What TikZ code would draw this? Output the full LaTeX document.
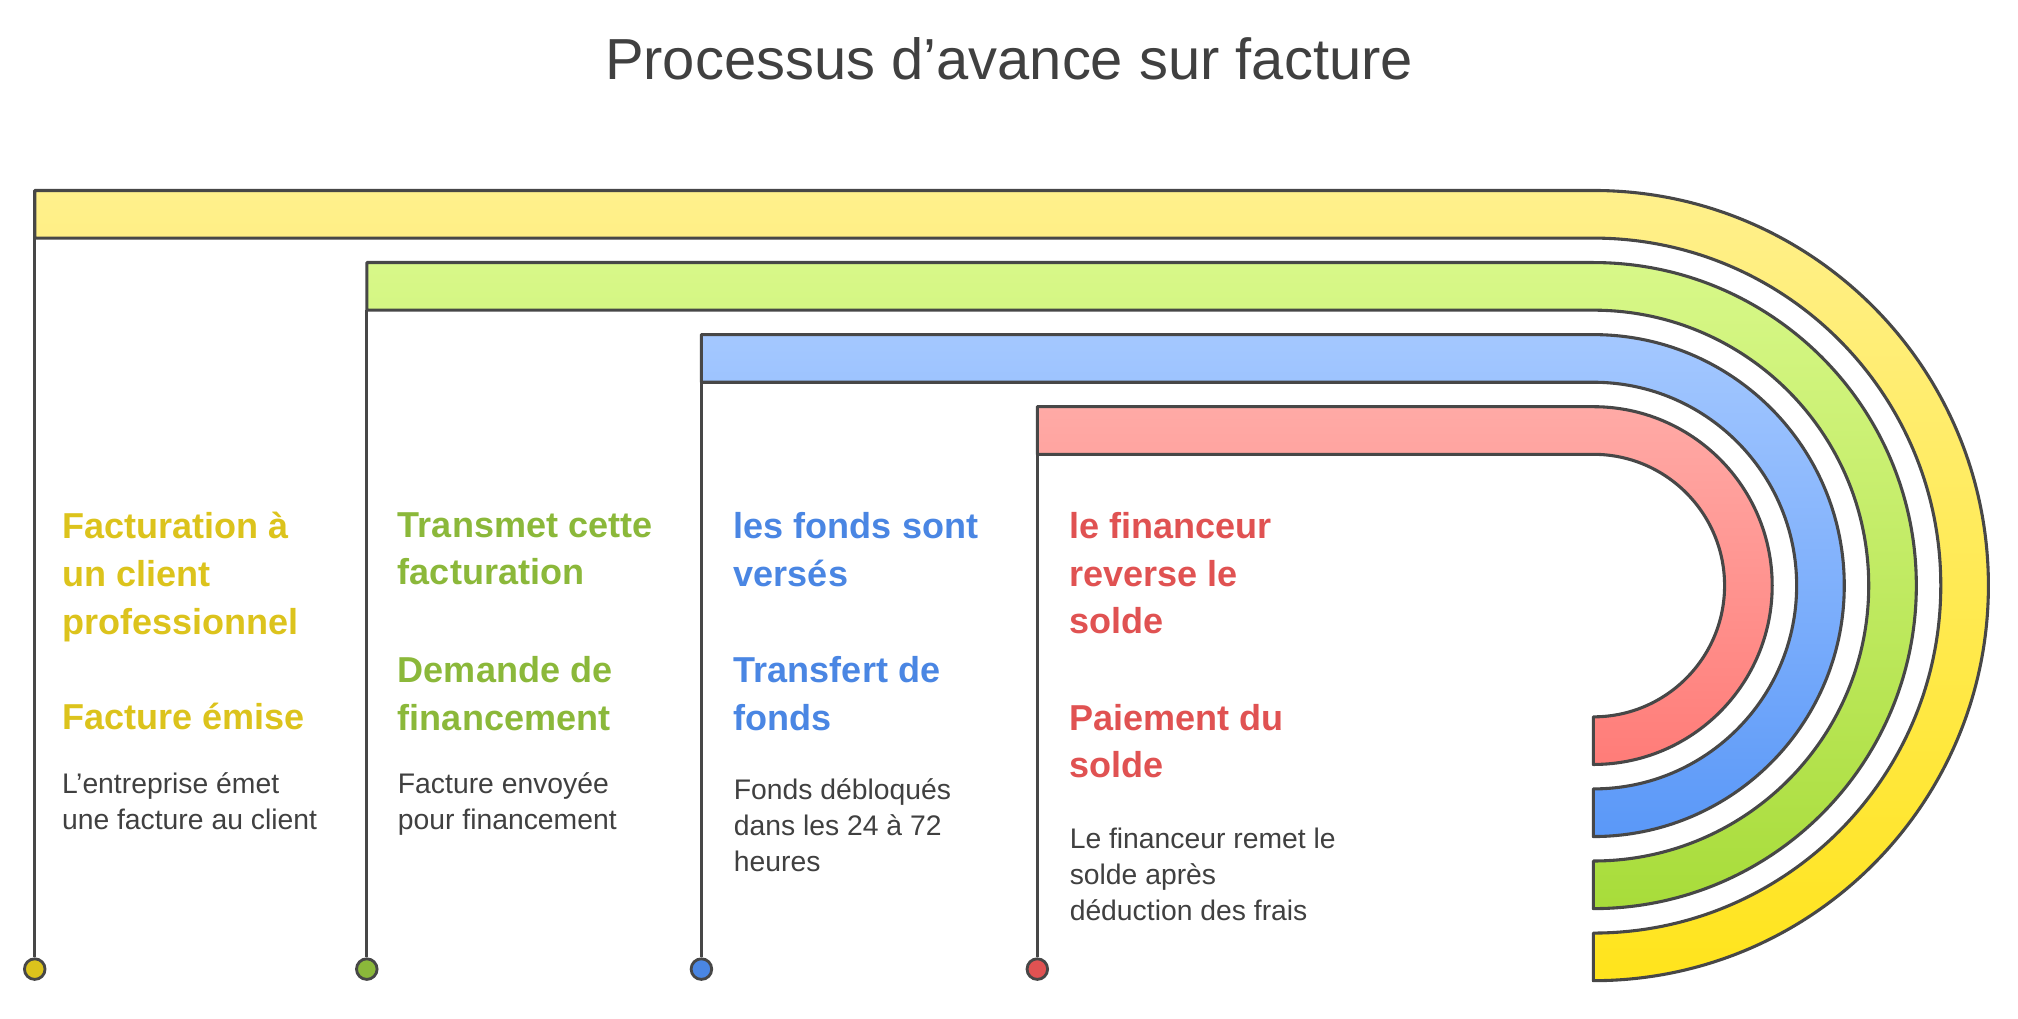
\documentclass[tikz,border=0pt]{standalone}
\usepackage{fontspec}
\setmainfont{Liberation Sans}
\newcommand\myband[6]{%
  \definecolor{ta}{HTML}{#5}\definecolor{tb}{HTML}{#6}%
  \pgfmathsetmacro\bb{#2+37}\pgfmathsetmacro\ei{455+#4}%
  \path[band,top color=ta,bottom color=tb]
    (#1,#2) -- (1238,#2) arc[start angle=-90,end angle=90,radius=#3]
    -- (1238,\ei) arc[start angle=90,end angle=-90,radius=#4]
    -- (#1,\bb) -- cycle;}
\begin{document}
\begin{tikzpicture}[x=1pt,y=-1pt,
  band/.style={draw=black!72,line width=2.4pt,line join=round},
  stem/.style={draw=black!72,line width=2.4pt},
  dot/.style={circle,draw=black!72,line width=2.2pt,minimum size=16pt,inner sep=0},
  head/.style={anchor=north west,inner sep=0,align=left,font=\fontsize{28}{37}\selectfont\bfseries},
  body/.style={anchor=north west,inner sep=0,align=left,text=black!75,font=\fontsize{22}{28}\selectfont}]
\definecolor{cy}{HTML}{DCC31C}\definecolor{cg}{HTML}{8BB83A}
\definecolor{cb}{HTML}{4A86E3}\definecolor{cr}{HTML}{E05252}
\useasboundingbox (0,0) rectangle (1568,791);
\node[text=black!75,font=\fontsize{45}{50}\selectfont,anchor=base] (title) at (784,62) {Processus d'avance sur facture};
\myband{27}{148}{307}{270}{FFF08C}{FFE41C}
\myband{285}{204}{251}{214}{D8F889}{A8DC3A}
\myband{545}{260}{195}{158}{A4C8FF}{5A98F8}
\myband{806}{316}{139}{102}{FFAAA6}{FF7C78}
\coordinate (sy) at (27,185); \coordinate (sg) at (285,241);
\coordinate (sb) at (545,297); \coordinate (sr) at (806,353);
\node[dot,fill=cy] (dy) at (27,753) {};
\node[dot,fill=cg] (dg) at (285,753) {};
\node[dot,fill=cb] (db) at (545,753) {};
\node[dot,fill=cr] (dr) at (806,753) {};
\draw[stem] (sy) -- (dy); \draw[stem] (sg) -- (dg);
\draw[stem] (sb) -- (db); \draw[stem] (sr) -- (dr);
\node[head,text=cy] (y1) at (48,398) {Facturation à\\un client\\professionnel};
\node[head,text=cy] (y2) at (48,546) {Facture émise};
\node[body] (y3) at (48,600) {L'entreprise émet\\une facture au client};
\node[head,text=cg] (g1) at (309,398) {Transmet cette\\facturation};
\node[head,text=cg] (g2) at (309,510) {Demande de\\financement};
\node[body] (g3) at (309,600) {Facture envoyée\\pour financement};
\node[head,text=cb] (b1) at (570,398) {les fonds sont\\versés};
\node[head,text=cb] (b2) at (570,510) {Transfert de\\fonds};
\node[body] (b3) at (570,605) {Fonds débloqués\\dans les 24 à 72\\heures};
\node[head,text=cr] (r1) at (831,398) {le financeur\\reverse le\\solde};
\node[head,text=cr] (r2) at (831,547) {Paiement du\\solde};
\node[body] (r3) at (831,643) {Le financeur remet le\\solde après\\déduction des frais};
\end{tikzpicture}
\end{document}
